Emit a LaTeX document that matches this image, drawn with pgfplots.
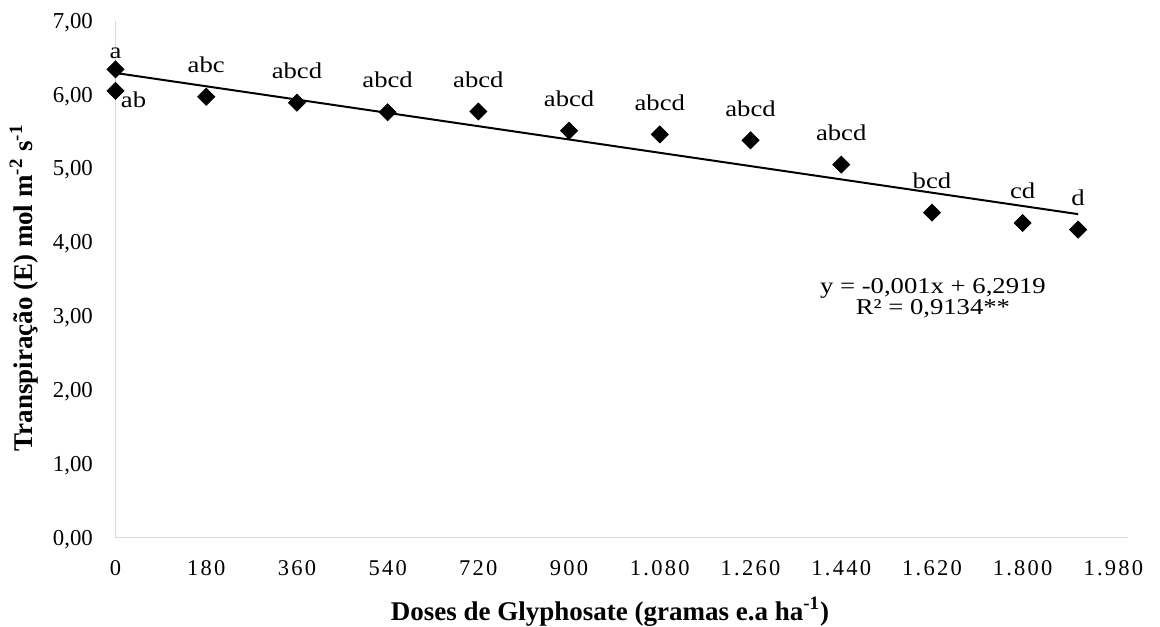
\documentclass[border=0pt]{standalone}
\usepackage{fontspec}
\setmainfont{Liberation Serif}
\newfontfamily\xtickfont[LetterSpace=10]{Liberation Serif}
\newfontfamily\lblfont[FakeStretch=1.18]{Liberation Serif}
\usepackage{pgfplots}
\pgfplotsset{compat=1.18}
\definecolor{axisgray}{HTML}{D9D9D9}
\begin{document}
\begin{tikzpicture}
\begin{axis}[
  scale only axis,
  width=506.25pt, height=258.4pt,
  xmin=0, xmax=2009, ymin=0, ymax=7,
  enlargelimits=false,
  clip=false,
  axis lines=left,
  axis line style={draw=axisgray, line width=0.8pt, -},
  major tick length=0pt,
  tick style={draw=none},
  xtick={0,180,360,540,720,900,1080,1260,1440,1620,1800,1980},
  xticklabels={0,180,360,540,720,900,1.080,1.260,1.440,1.620,1.800,1.980},
  ytick={0,1,2,3,4,5,6,7},
  yticklabels={{0,00},{1,00},{2,00},{3,00},{4,00},{5,00},{6,00},{7,00}},
  xticklabel style={anchor=base, inner sep=0pt, yshift=-18.75pt, font=\xtickfont\fontsize{11.25}{13}\selectfont},
  yticklabel style={anchor=base east, inner sep=0pt, xshift=-11.1pt, yshift=-3.8pt, font=\fontsize{11.4}{13}\selectfont},
  xlabel={Doses de Glyphosate (gramas e.a ha\textsuperscript{-1})},
  ylabel={Transpiração (E) mol m\textsuperscript{-2} s\textsuperscript{-1}},
  xlabel style={at={(axis description cs:0.4884,0)}, anchor=base, yshift=-41.25pt, inner sep=0pt, font=\bfseries\fontsize{13.5}{16}\selectfont},
  ylabel style={at={([xshift=-41.5pt]axis description cs:0,0.4828)}, anchor=base, inner sep=0pt, font=\bfseries\fontsize{13.5}{16}\selectfont},
]
\coordinate (sw) at (rel axis cs:0,0);
\coordinate (ne) at (rel axis cs:1,1);
% trendline
\addplot[black, line width=1pt, no marks] coordinates {(0,6.2919) (1910,4.38)};
% main series with labels above
\addplot[only marks, mark=square*, mark size=3pt, mark options={rotate=45, fill=black, draw=black},
  nodes near coords, point meta=explicit symbolic,
  nodes near coords style={anchor=center, inner sep=0pt, yshift=16pt, font=\lblfont\fontsize{11.3}{13}\selectfont, text=black}]
  table[meta=lab] {
x y lab
180 5.97 abc
360 5.89 abcd
540 5.76 abcd
720 5.77 abcd
900 5.51 abcd
1080 5.46 abcd
1260 5.38 abcd
1440 5.05 abcd
1620 4.40 bcd
1800 4.26 cd
1910 4.17 d
};
\addplot[only marks, mark=square*, mark size=3pt, mark options={rotate=45, fill=black, draw=black},
  nodes near coords, point meta=explicit symbolic,
  nodes near coords style={anchor=center, inner sep=0pt, yshift=8pt, font=\lblfont\fontsize{11.3}{13}\selectfont, text=black}]
  table[meta=lab] {
x y lab
0 6.34 a
};
\addplot[only marks, mark=square*, mark size=3pt, mark options={rotate=45, fill=black, draw=black},
  nodes near coords, point meta=explicit symbolic,
  nodes near coords style={anchor=center, inner sep=0pt, xshift=9pt, yshift=-4.65pt, font=\lblfont\fontsize{11.3}{13}\selectfont, text=black}]
  table[meta=lab] {
x y lab
0 6.05 ab
};
\node[anchor=base, inner sep=0pt, font=\lblfont\fontsize{11.3}{13}\selectfont] at (axis cs:1622,3.308) {y = -0,001x + 6,2919};
\node[anchor=base, inner sep=0pt, font=\lblfont\fontsize{11.3}{13}\selectfont] at (axis cs:1622,3.027) {R² = 0,9134**};
\end{axis}
\pgfresetboundingbox
\path[use as bounding box] ([shift={(-57.75pt,-44.25pt)}]sw) rectangle ([shift={(16pt,10.35pt)}]ne);
\end{tikzpicture}
\end{document}
